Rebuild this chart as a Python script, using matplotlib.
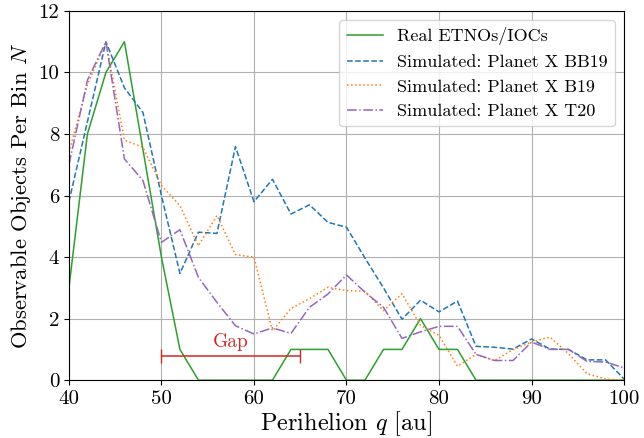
import numpy as np
import matplotlib
matplotlib.use('Agg')
import matplotlib.pyplot as plt

plt.rcParams['font.family'] = 'serif'
plt.rcParams['font.serif'] = ['cmr10']
plt.rcParams['mathtext.fontset'] = 'cm'
plt.rcParams['axes.unicode_minus'] = False

# perihelion bins
q = np.arange(40, 101, 2)

real = [3, 8, 10, 11, 7.5, 4, 1, 0, 0, 0, 0, 0, 1, 1, 1, 0,
        0, 1, 1, 2, 1, 1, 0, 0, 0, 0, 0, 0, 0, 0, 0]
bb19 = [5.8, 8.4, 11, 9.5, 8.7, 6.0, 3.47, 4.81, 4.77, 7.59, 5.8, 6.53, 5.4, 5.7, 5.13, 4.97,
        3.97, 3.0, 1.98, 2.6, 2.22, 2.57, 1.1, 1.07, 1.01, 1.34, 1.01, 1.0, 0.66, 0.66, 0.04]
b19 = [7.4, 9.6, 11, 7.8, 7.57, 6.33, 5.67, 4.37, 5.35, 4.08, 4.0, 1.6, 2.33, 2.65, 3.02, 2.91,
       2.89, 2.26, 2.81, 1.78, 1.46, 0.45, 0.84, 0.64, 0.99, 1.24, 1.4, 0.86, 0.21, 0.04, 0.0]
t20 = [7.0, 9.75, 11, 7.19, 6.49, 4.48, 4.89, 3.34, 2.53, 1.77, 1.5, 1.7, 1.52, 2.37, 2.8, 3.42,
       2.86, 2.37, 1.36, 1.57, 1.75, 1.75, 0.84, 0.64, 0.64, 1.24, 1.0, 1.0, 0.61, 0.59, 0.4]

fig = plt.figure(figsize=(6.44, 4.38), dpi=100)
ax = fig.add_axes([0.107, 0.132, 0.862, 0.843])

ax.plot(q, real, color='C2', ls='-', lw=1.1, label='Real ETNOs/IOCs')
ax.plot(q, bb19, color='C0', ls='--', lw=1.1, label='Simulated: Planet X BB19')
ax.plot(q, b19, color='C1', ls=':', lw=1.1, label='Simulated: Planet X B19')
ax.plot(q, t20, color='C4', ls='-.', lw=1.1, label='Simulated: Planet X T20')

# gap marker
ax.errorbar(57.5, 0.8, xerr=7.5, color='C3', lw=1.1, capsize=5)
ax.text(57.5, 0.95, 'Gap', color='C3', ha='center', va='bottom', fontsize=14)

ax.set_xlim(40, 100)
ax.set_ylim(0, 12)
ax.set_xticks(range(40, 101, 10))
ax.set_yticks(range(0, 13, 2))
ax.tick_params(labelsize=15)
ax.set_xlabel('Perihelion $q$ [au]', fontsize=17.5, labelpad=1)
ax.set_ylabel('Observable Objects Per Bin $N$', fontsize=16.3)
ax.grid(True)
ax.legend(loc='upper right', fontsize=13)

fig.savefig('out.png', dpi=100)
